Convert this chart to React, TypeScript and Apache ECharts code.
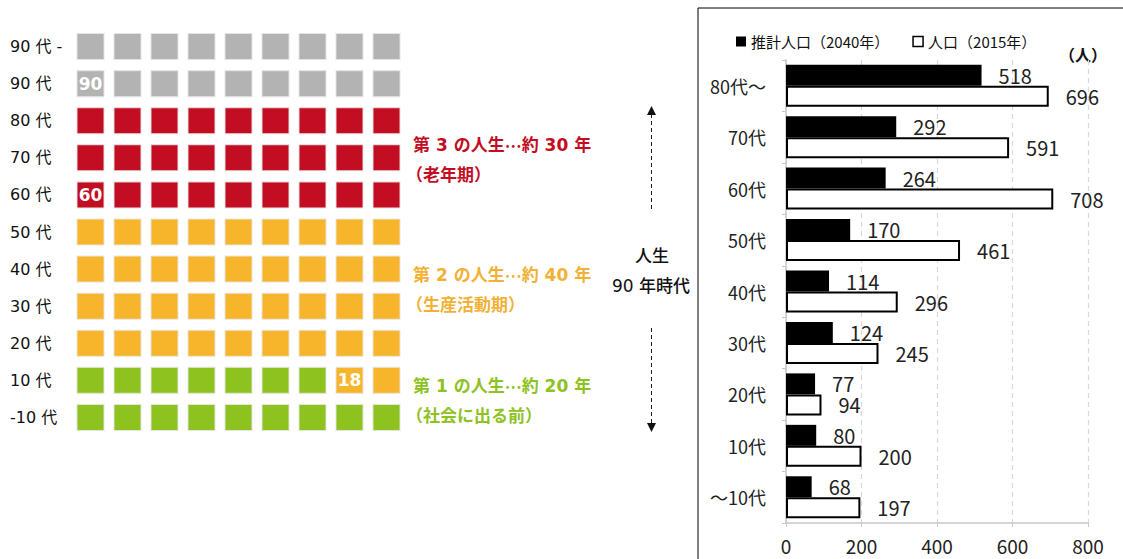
import React, { useEffect, useRef } from "react";
import * as echarts from "echarts";

// ---- Bar chart data ----
const ageCategories = ["80代〜", "70代", "60代", "50代", "40代", "30代", "20代", "10代", "〜10代"];
const projected2040 = [518, 292, 264, 170, 114, 124, 77, 80, 68];
const population2015 = [696, 591, 708, 461, 296, 245, 94, 200, 197];
const seriesNames = ["推計人口（2040年）", "人口（2015年）"];
const xMax = 800;
const xInterval = 200;

// ---- Waffle data (bottom row first) ----
const waffleRows = ["-10 代", "10 代", "20 代", "30 代", "40 代", "50 代", "60 代", "70 代", "80 代", "90 代", "90 代 -"];
const waffleCols = ["1", "2", "3", "4", "5", "6", "7", "8", "9"];
const rowStages = [
  "GGGGGGGGG",
  "GGGGGGGOO",
  "OOOOOOOOO",
  "OOOOOOOOO",
  "OOOOOOOOO",
  "OOOOOOOOO",
  "RRRRRRRRR",
  "RRRRRRRRR",
  "RRRRRRRRR",
  "SSSSSSSSS",
  "SSSSSSSSS",
];
const cellNotes = [
  { row: "90 代", col: 0, text: "90" },
  { row: "60 代", col: 0, text: "60" },
  { row: "10 代", col: 7, text: "18" },
];
const phaseTexts = [
  ["第 3 の人生{e|…}約 30 年", "（老年期）"],
  ["第 2 の人生{e|…}約 40 年", "（生産活動期）"],
  ["第 1 の人生{e|…}約 20 年", "（社会に出る前）"],
];
const centerTexts = ["人生", "90 年時代"];
const unitText = "（人）";

const stageColors: Record<string, string> = {
  G: "#8dc21f",
  O: "#f7b52c",
  R: "#c30d23",
  S: "#b3b3b3",
};
const phaseColors = ["#c30d23", "#f2b134", "#8dc21f"];
const phaseY = [[145, 173], [275, 303], [386, 414]];

const CJK = "'Noto Sans CJK JP', sans-serif";
const LEFTFONT = "'DejaVu Sans', 'Noto Sans CJK JP', sans-serif";

export default function App() {
  const ref = useRef<HTMLDivElement>(null);

  useEffect(() => {
    if (!ref.current) return;
    const chart = echarts.init(ref.current, undefined, { renderer: "svg" });

    const waffleData: any[] = [];
    waffleRows.forEach((row, r) => {
      const stages = rowStages[r];
      for (let c = 0; c < waffleCols.length; c++) {
        const note = cellNotes.find((n) => n.row === row && n.col === c);
        const item: any = {
          value: [c, r],
          itemStyle: { color: stageColors[stages[c]] },
        };
        if (note) {
          item.label = {
            show: true,
            formatter: note.text,
            position: "inside",
            color: "#fff",
            fontWeight: "bold",
            fontSize: 17,
            fontFamily: LEFTFONT,
          };
        }
        waffleData.push(item);
      }
    });

    const graphics: any[] = [
      {
        type: "rect",
        shape: { x: 698, y: 8, width: 600, height: 700 },
        style: { fill: "none", stroke: "#000", lineWidth: 1 },
        z: -1,
        silent: true,
      },
      {
        type: "text",
        x: 1083,
        y: 54,
        style: { text: unitText, fontSize: 16, fontFamily: CJK, fill: "#111", align: "center", verticalAlign: "middle", fontWeight: "bold" },
      },
      {
        type: "text",
        x: 652,
        y: 254,
        style: { text: centerTexts[0], fontSize: 17, fontFamily: CJK, fill: "#111", align: "center", verticalAlign: "middle", fontWeight: 500 },
      },
      {
        type: "text",
        x: 651,
        y: 286,
        style: { text: centerTexts[1], fontSize: 17, fontFamily: LEFTFONT, fill: "#111", align: "center", verticalAlign: "middle", fontWeight: 500 },
      },
      {
        type: "line",
        shape: { x1: 651.5, y1: 114, x2: 651.5, y2: 210 },
        style: { stroke: "#222", lineWidth: 1, lineDash: [4, 3] },
      },
      {
        type: "polygon",
        shape: { points: [[647, 115], [651.5, 106], [656, 115]] },
        style: { fill: "#111" },
      },
      {
        type: "line",
        shape: { x1: 651.5, y1: 328, x2: 651.5, y2: 424 },
        style: { stroke: "#222", lineWidth: 1, lineDash: [4, 3] },
      },
      {
        type: "polygon",
        shape: { points: [[647, 423], [651.5, 432], [656, 423]] },
        style: { fill: "#111" },
      },
    ];
    phaseTexts.forEach((lines, i) => {
      lines.forEach((t, j) => {
        graphics.push({
          type: "text",
          x: j === 0 ? 413 : 406,
          y: phaseY[i][j],
          style: {
            text: t,
            fontSize: 17,
            fontWeight: "bold",
            fontFamily: j === 0 ? LEFTFONT : CJK,
            fill: phaseColors[i],
            verticalAlign: "middle",
            rich: {
              e: { fontFamily: CJK, fontSize: 17, fontWeight: "bold", fill: phaseColors[i] },
            },
          },
        });
      });
    });

    chart.setOption({
      animation: false,
      backgroundColor: "#fff",
      legend: {
        left: 736,
        top: 34,
        padding: 0,
        itemWidth: 10,
        itemHeight: 10,
        itemGap: 23,
        textStyle: { fontSize: 15, fontFamily: CJK, color: "#111" },
        data: [
          { name: seriesNames[0], icon: "rect", itemStyle: { color: "#000", borderWidth: 0 } },
          { name: seriesNames[1], icon: "rect", itemStyle: { color: "#fff", borderColor: "#000", borderWidth: 1.5 } },
        ],
      },
      grid: [
        { left: 786, top: 60, width: 302, height: 463, containLabel: false },
        { left: 72, top: 28, width: 333, height: 408, containLabel: false },
      ],
      xAxis: [
        {
          type: "value",
          gridIndex: 0,
          min: 0,
          max: xMax,
          interval: xInterval,
          axisLine: { show: true, lineStyle: { color: "#c8c8c8", width: 1.5 } },
          axisTick: { show: true, length: 4, lineStyle: { color: "#c8c8c8" } },
          axisLabel: { fontSize: 19, color: "#222", fontFamily: CJK, margin: 13 },
          splitLine: { show: true, lineStyle: { color: "#d9d9d9", type: [5, 4], width: 1.2 } },
        },
        {
          type: "category",
          gridIndex: 1,
          data: waffleCols,
          show: false,
        },
      ],
      yAxis: [
        {
          type: "category",
          gridIndex: 0,
          data: ageCategories,
          inverse: true,
          axisLine: { show: true, lineStyle: { color: "#c8c8c8", width: 1.5 } },
          axisTick: { show: true, length: 4, lineStyle: { color: "#c8c8c8" } },
          axisLabel: { fontSize: 18, color: "#222", fontFamily: CJK, margin: 20 },
          splitLine: { show: false },
        },
        {
          type: "category",
          gridIndex: 1,
          data: waffleRows,
          axisLine: { show: false },
          axisTick: { show: false },
          splitLine: { show: false },
          axisLabel: {
            align: "left",
            margin: 62,
            fontSize: 16,
            color: "#111",
            fontFamily: LEFTFONT,
          },
        },
      ],
      series: [
        {
          name: seriesNames[0],
          type: "bar",
          xAxisIndex: 0,
          yAxisIndex: 0,
          data: projected2040,
          barWidth: 21,
          barGap: "0%",
          itemStyle: { color: "#000" },
          label: { show: true, position: "right", distance: 17, fontSize: 20, color: "#222", fontFamily: CJK },
        },
        {
          name: seriesNames[1],
          type: "bar",
          xAxisIndex: 0,
          yAxisIndex: 0,
          data: population2015,
          barWidth: 21,
          barGap: "0%",
          itemStyle: { color: "#fff", borderColor: "#000", borderWidth: 2 },
          label: { show: true, position: "right", distance: 17, fontSize: 20, color: "#222", fontFamily: CJK },
        },
        {
          type: "scatter",
          xAxisIndex: 1,
          yAxisIndex: 1,
          symbol: "rect",
          symbolSize: [27, 26],
          silent: true,
          itemStyle: { borderColor: "rgba(230,230,230,0.9)", borderWidth: 1, opacity: 1 },
          data: waffleData,
        },
      ],
      graphic: graphics,
    });

    return () => chart.dispose();
  }, []);

  return (
    <div
      ref={ref}
      style={{ position: "fixed", left: 0, top: 0, width: 1123, height: 559, background: "#fff" }}
    />
  );
}
